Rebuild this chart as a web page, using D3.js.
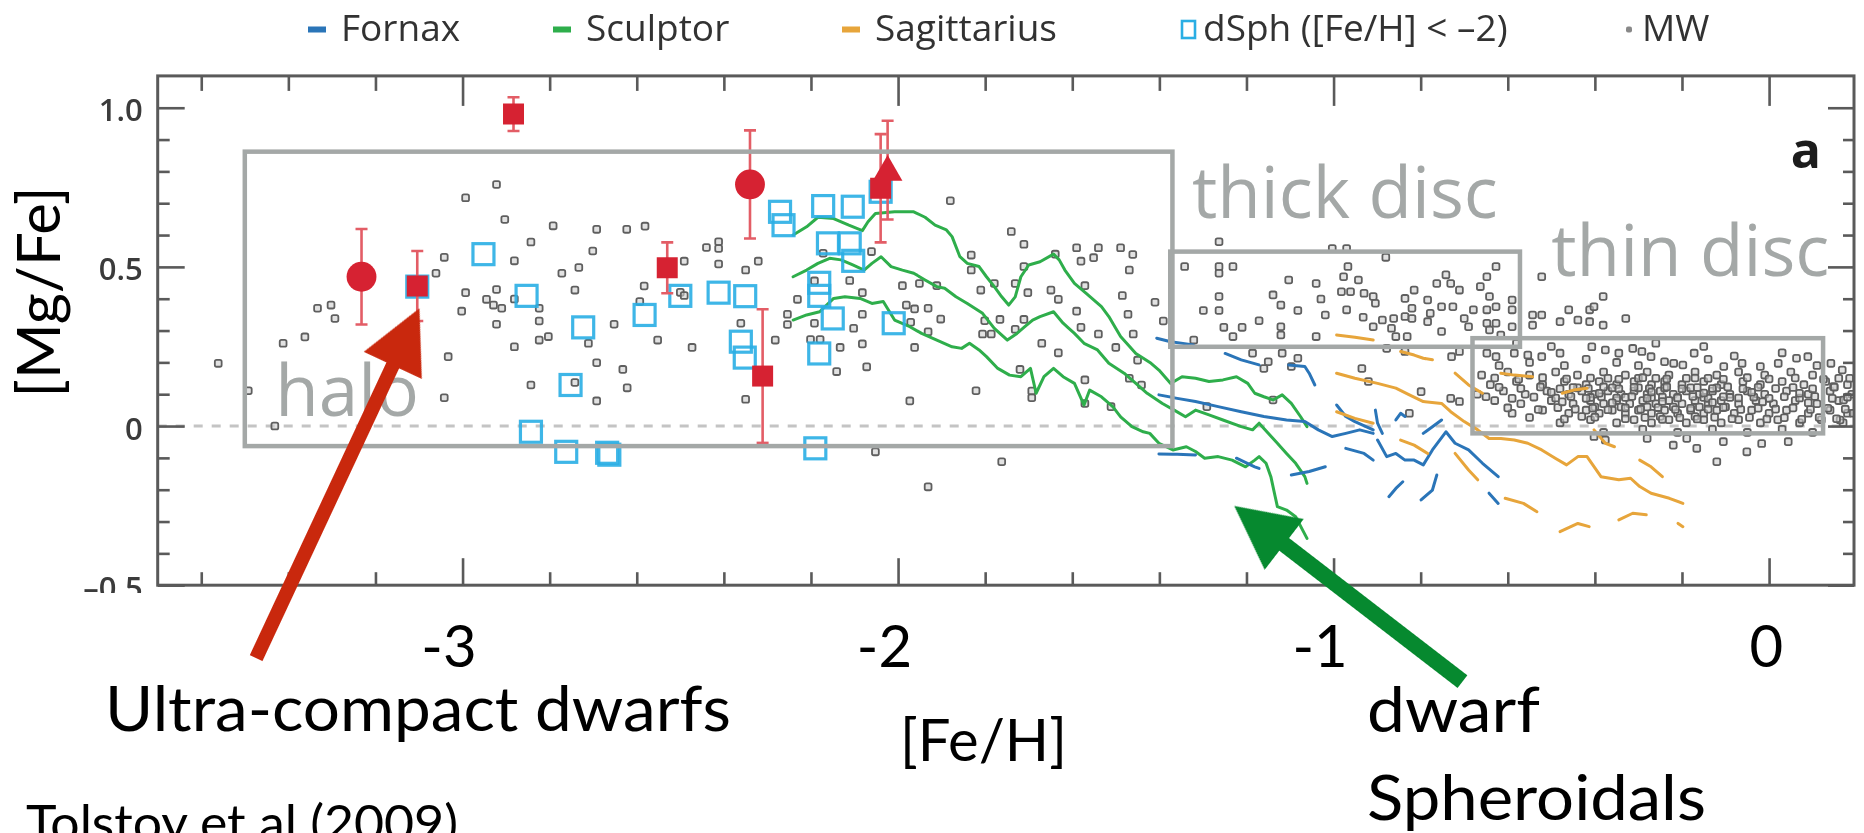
<!DOCTYPE html>
<html>
<head>
<meta charset="utf-8">
<script src="https://cdn.jsdelivr.net/npm/d3@7"></script>
<style>
  body { margin: 0; background: #fff; }
  svg { display: block; }
</style>
</head>
<body>
<svg id="chart" width="1864" height="833"></svg>
<script>
// ---------- axis ticks ----------
const xMajorTicks = [-3, -2, -1, 0];
const xMinorTicks = [-3.6, -3.4, -3.2, -2.8, -2.6, -2.4, -2.2, -1.8, -1.6, -1.4, -1.2, -0.8, -0.6, -0.4, -0.2];
const yMajorTicks = [-0.5, 0, 0.5, 1.0];
const yMinorTicks = [-0.4, -0.3, -0.2, -0.1, 0.1, 0.2, 0.3, 0.4, 0.6, 0.7, 0.8, 0.9];
const xTickLabels = ["-3", "-2", "-1", "0"];
const yTickLabels = ["\u20130.5", "0", "0.5", "1.0"];

// ---------- legend ----------
const legendItems = [
  { key: "Fornax", label: "Fornax" },
  { key: "Sculptor", label: "Sculptor" },
  { key: "Sagittarius", label: "Sagittarius" },
  { key: "dSph", label: "dSph ([Fe/H] < \u20132)" },
  { key: "MW", label: "MW" }
];

// ---------- Galactic components ([Fe/H] range, [Mg/Fe] range) ----------
const regionBoxes = [
  { name: "halo",       x0: -3.50,  x1: -1.37, y0: -0.063, y1: 0.862, lx: -3.43,  ly: 0.03 },
  { name: "thick disc", x0: -1.375, x1: -0.572, y0: 0.249, y1: 0.548, lx: -1.325, ly: 0.655 },
  { name: "thin disc",  x0: -0.681, x1: 0.124,  y0: -0.023, y1: 0.276, lx: -0.50,  ly: 0.472 }
];

// ---------- Milky Way stars ----------
const mwHaloStars = [
  [-2.922,0.759],[-2.993,0.717],[-2.903,0.649],[-2.792,0.629],[-2.692,0.618],[-2.623,0.618],[-2.581,0.628],
  [-2.843,0.578],[-2.701,0.550],[-3.042,0.530],[-2.881,0.519],[-2.733,0.498],[-2.772,0.480],[-3.061,0.480],
  [-2.742,0.427],[-2.583,0.440],[-2.993,0.419],[-2.922,0.429],[-2.945,0.398],[-2.929,0.380],[-2.910,0.370],
  [-2.881,0.399],[-2.824,0.370],[-3.002,0.361],[-2.824,0.330],[-2.922,0.320],[-2.652,0.320],[-2.593,0.391],
  [-2.711,0.260],[-2.803,0.281],[-2.824,0.270],[-2.881,0.249],[-2.552,0.270],[-3.033,0.218],[-2.692,0.199],
  [-2.632,0.178],[-2.742,0.137],[-2.843,0.129],[-2.622,0.120],[-2.692,0.079],[-3.042,0.089],[-3.333,0.370],
  [-3.302,0.380],[-3.293,0.338],[-3.362,0.280],[-3.412,0.260],[-3.561,0.197],[-3.492,0.111],[-3.431,0.000]
];
const mwTransitionStars = [
  [-2.412,0.579],[-2.412,0.558],[-2.440,0.561],[-2.491,0.518],[-2.412,0.509],[-2.350,0.490],[-2.321,0.518],
  [-2.500,0.420],[-2.491,0.410],[-2.473,0.247],[-2.350,0.084],[-2.361,0.323],[-2.282,0.270],[-2.254,0.351],
  [-2.254,0.319],[-2.231,0.398],[-2.192,0.456],[-2.192,0.323],[-2.201,0.272],[-2.179,0.272],[-2.172,0.543],
  [-2.133,0.247],[-2.141,0.171],[-2.111,0.457],[-2.102,0.307],[-2.082,0.419],[-2.082,0.351],[-2.082,0.258],
  [-2.072,0.186],[-2.061,0.548],[-2.052,-0.081],[-1.990,0.441],[-1.971,0.326],[-1.981,0.380],[-1.962,0.368],
  [-1.931,0.370],[-1.931,0.296],[-1.951,0.448],[-1.911,0.441],[-1.962,0.247],[-1.973,0.079],[-1.931,-0.191],
  [-1.902,0.336],[-1.880,0.708],[-1.832,0.537],[-1.832,0.490],[-1.810,0.427],[-1.821,0.111],[-1.801,0.331],
  [-1.779,0.448],[-1.766,0.335],[-1.806,0.289],[-1.786,0.289],[-1.762,-0.112],[-1.740,0.611],[-1.731,0.448],
  [-1.731,0.304],[-1.711,0.571],[-1.711,0.501],[-1.720,0.178],[-1.702,0.419],[-1.711,0.335],[-1.693,0.110],
  [-1.693,0.089],[-1.670,0.260],[-1.649,0.427],[-1.639,0.540],[-1.632,0.230],[-1.632,0.398],[-1.590,0.560],
  [-1.580,0.518],[-1.590,0.361],[-1.580,0.310],[-1.571,0.441],[-1.571,0.145],[-1.571,0.071],[-1.540,0.560],
  [-1.551,0.529],[-1.540,0.289],[-1.511,0.061],[-1.500,0.247],[-1.489,0.560],[-1.485,0.410],[-1.469,0.490],
  [-1.472,0.351],[-1.461,0.539],[-1.460,0.289],[-1.469,0.150],[-1.450,0.207],[-1.441,0.129],[-1.410,0.389],
  [-1.391,0.330],[-1.342,0.501],[-1.321,0.270]
];
const mwThickDiscStars = [
  [-1.263,0.579],[-1.263,0.501],[-1.263,0.480],[-1.231,0.501],[-1.299,0.363],[-1.263,0.407],[-1.263,0.363],
  [-1.252,0.310],[-1.210,0.310],[-1.231,0.281],[-1.171,0.331],[-1.139,0.412],[-1.121,0.380],[-1.121,0.312],
  [-1.121,0.286],[-1.103,0.459],[-1.082,0.363],[-1.040,0.448],[-1.029,0.399],[-1.019,0.349],[-1.040,0.281],
  [-1.003,0.558],[-0.970,0.558],[-0.880,0.530],[-0.967,0.501],[-0.977,0.469],[-0.943,0.459],[-0.982,0.422],
  [-0.961,0.422],[-0.970,0.365],[-0.930,0.417],[-0.909,0.407],[-0.904,0.386],[-0.932,0.342],[-0.909,0.312],
  [-0.888,0.333],[-0.862,0.338],[-0.836,0.401],[-0.815,0.427],[-0.820,0.370],[-0.836,0.344],[-0.820,0.338],
  [-0.867,0.307],[-0.857,0.281],[-0.831,0.281],[-0.784,0.396],[-0.778,0.354],[-0.784,0.328],[-0.763,0.448],
  [-0.742,0.475],[-0.731,0.448],[-0.711,0.427],[-0.752,0.375],[-0.726,0.375],[-0.752,0.297],[-0.700,0.338],
  [-0.679,0.365],[-0.690,0.312],[-0.663,0.438],[-0.648,0.469],[-0.627,0.501],[-0.642,0.407],[-0.648,0.365],
  [-0.627,0.375],[-0.648,0.323],[-0.627,0.323],[-0.642,0.302],[-0.590,0.396],[-0.590,0.365],[-0.590,0.312],
  [-0.616,0.286],[-0.522,0.469],[-0.381,0.407],[-0.543,0.349],[-0.522,0.349],[-0.543,0.317],[-0.460,0.365],
  [-0.480,0.328],[-0.439,0.333],[-0.412,0.365],[-0.402,0.375],[-0.381,0.317],[-0.329,0.338],[-0.412,0.328],
  [-1.186,0.229],[-1.150,0.202],[-1.160,0.181],[-1.097,0.187],[-1.082,0.213],[-1.118,0.229],[-0.935,0.181],
  [-0.878,0.244],[-0.836,0.234],[-0.799,0.108],[-0.729,0.218],[-0.711,0.234],[-0.731,0.087],[-0.711,0.077],
  [-0.826,0.040],[-0.920,0.140],[-1.291,0.061],[-1.139,0.082]
];
const mwThinDiscStars = [
  [-0.66,0.16],[-0.60,0.17],[-0.55,0.16],[-0.49,0.17],[-0.44,0.16],[-0.38,0.17],[-0.33,0.16],[-0.28,0.17],
  [-0.23,0.16],[-0.17,0.17],[-0.12,0.16],[-0.07,0.17],[-0.01,0.16],[0.05,0.17],[0.10,0.16],[0.16,0.15],
  [-0.64,0.13],[-0.58,0.14],[-0.52,0.13],[-0.47,0.14],[-0.42,0.13],[-0.39,0.14],[-0.35,0.13],[-0.31,0.14],
  [-0.27,0.13],[-0.24,0.14],[-0.20,0.13],[-0.15,0.14],[-0.11,0.13],[-0.06,0.14],[-0.02,0.13],[0.03,0.14],
  [0.08,0.13],[0.13,0.14],[0.18,0.13],
  [-0.67,0.10],[-0.61,0.11],[-0.56,0.10],[-0.51,0.11],[-0.46,0.10],[-0.43,0.11],[-0.40,0.10],[-0.37,0.11],
  [-0.34,0.10],[-0.31,0.11],[-0.28,0.10],[-0.25,0.11],[-0.22,0.10],[-0.19,0.11],[-0.16,0.10],[-0.13,0.11],
  [-0.09,0.10],[-0.05,0.11],[-0.01,0.10],[0.04,0.11],[0.09,0.10],[0.14,0.11],[0.19,0.10],
  [-0.63,0.08],[-0.57,0.07],[-0.50,0.08],[-0.45,0.07],[-0.41,0.08],[-0.38,0.07],[-0.35,0.08],[-0.32,0.07],
  [-0.29,0.08],[-0.26,0.07],[-0.23,0.08],[-0.20,0.07],[-0.17,0.08],[-0.14,0.07],[-0.11,0.08],[-0.07,0.07],
  [-0.03,0.08],[0.01,0.07],[0.06,0.08],[0.11,0.07],[0.16,0.08],
  [-0.59,0.04],[-0.52,0.05],[-0.46,0.04],[-0.42,0.05],[-0.39,0.04],[-0.36,0.05],[-0.33,0.04],[-0.30,0.05],
  [-0.27,0.04],[-0.24,0.05],[-0.21,0.04],[-0.18,0.05],[-0.15,0.04],[-0.12,0.05],[-0.08,0.04],[-0.04,0.05],
  [0.00,0.04],[0.04,0.05],[0.09,0.04],[0.14,0.05],[0.18,0.04],
  [-0.48,0.01],[-0.41,0.02],[-0.35,0.01],[-0.31,0.02],[-0.27,0.01],[-0.23,0.02],[-0.19,0.01],[-0.15,0.02],
  [-0.11,0.01],[-0.07,0.02],[-0.02,0.01],[0.02,0.02],[0.07,0.01],[0.12,0.02],[0.17,0.01],
  [-0.38,-0.02],[-0.29,-0.01],[-0.21,-0.02],[-0.13,-0.01],[-0.05,-0.02],[0.03,-0.01],[0.10,-0.02],
  [-0.44,0.12],[-0.41,0.09],[-0.36,0.12],[-0.33,0.09],[-0.30,0.12],[-0.27,0.09],[-0.24,0.12],[-0.21,0.09],
  [-0.18,0.12],[-0.15,0.09],[-0.12,0.12],[-0.09,0.09],[-0.40,0.06],[-0.34,0.06],[-0.28,0.06],[-0.22,0.06],
  [-0.16,0.06],[-0.10,0.06],[-0.37,0.15],[-0.30,0.15],[-0.26,0.15],[-0.19,0.15],[-0.14,0.15],[-0.43,0.03],
  [-0.25,0.03],[-0.17,0.03],
  [-0.648,0.229],[-0.627,0.218],[-0.585,0.229],[-0.554,0.223],[-0.522,0.218],[-0.480,0.229],[-0.407,0.249],
  [-0.376,0.239],[-0.345,0.229],[-0.313,0.244],[-0.292,0.234],[-0.271,0.218],[-0.172,0.229],[-0.240,0.202],
  [-0.219,0.197],[-0.198,0.192],[-0.104,0.187],[-0.062,0.197],[-0.020,0.187],[0.021,0.197],[0.063,0.213],
  [0.089,0.218],[0.142,0.197],[0.168,0.176],[-0.62,0.19],[-0.55,0.20],[-0.47,0.19],[-0.42,0.21],[-0.35,0.20],
  [-0.30,0.19],[-0.14,0.21],[-0.08,0.22],[0.03,0.23],[0.11,0.19],[-0.58,0.26],[-0.50,0.25],[-0.26,0.26],
  [-0.15,0.25],
  [-0.280,-0.039],[-0.220,-0.060],[-0.166,-0.070],[-0.120,-0.112],[-0.105,-0.049],[-0.051,-0.081],
  [-0.017,-0.055],[0.044,-0.049],[-0.189,-0.039],[-0.402,-0.033],[-0.376,-0.044],
  [0.148,0.124],[0.171,0.082],[0.193,0.040],[0.163,0.019],[0.185,0.15]
];
// densest part of the thin-disc sequence
const mwThinDiscCore = [
  [-0.55,0.027],[-0.47,0.022],[-0.40,0.028],[-0.33,0.023],[-0.285,0.027],[-0.245,0.021],[-0.205,0.026],
  [-0.165,0.022],[-0.125,0.028],[-0.085,0.023],[-0.045,0.027],[-0.005,0.022],[0.035,0.026],[0.075,0.021],
  [0.115,0.027],[0.155,0.023],
  [-0.60,0.057],[-0.53,0.052],[-0.485,0.058],[-0.445,0.053],[-0.405,0.056],[-0.37,0.051],[-0.33,0.057],
  [-0.295,0.053],[-0.255,0.058],[-0.215,0.052],[-0.18,0.056],[-0.14,0.053],[-0.105,0.058],[-0.065,0.052],
  [-0.025,0.056],[0.015,0.053],[0.055,0.057],[0.095,0.052],[0.135,0.056],[0.175,0.053],
  [-0.65,0.092],[-0.59,0.087],[-0.54,0.091],[-0.49,0.088],[-0.455,0.093],[-0.42,0.087],[-0.385,0.092],
  [-0.35,0.088],[-0.315,0.093],[-0.28,0.087],[-0.245,0.091],[-0.21,0.088],[-0.175,0.093],[-0.14,0.087],
  [-0.105,0.092],[-0.07,0.088],[-0.035,0.091],[0.0,0.087],[0.035,0.092],[0.07,0.088],[0.105,0.093],
  [0.145,0.087],[0.18,0.091],
  [-0.62,0.122],[-0.57,0.118],[-0.525,0.123],[-0.48,0.117],[-0.45,0.121],[-0.415,0.118],[-0.38,0.123],
  [-0.345,0.117],[-0.31,0.122],[-0.275,0.118],[-0.235,0.123],[-0.20,0.117],[-0.165,0.121],[-0.13,0.118],
  [-0.095,0.123],[-0.06,0.117],[-0.025,0.122],[0.015,0.118],[0.055,0.121],[0.10,0.117],[0.15,0.122],
  [-0.63,0.151],[-0.575,0.147],[-0.52,0.152],[-0.465,0.148],[-0.41,0.151],[-0.345,0.147],[-0.29,0.152],
  [-0.235,0.148],[-0.17,0.151],[-0.105,0.147],[-0.05,0.152],[0.0,0.148],[0.06,0.151],[0.125,0.147],
  [-0.475,0.076],[-0.36,0.073],[-0.245,0.077],[-0.13,0.074],[-0.015,0.076],[0.09,0.073],
  [-0.50,0.106],[-0.39,0.103],[-0.27,0.107],[-0.15,0.104],[-0.04,0.106],[0.07,0.103]
];

// ---------- dwarf spheroidal trends ----------
const sculptorUpper = [
  [-2.241,0.600],[-2.210,0.626],[-2.184,0.656],[-2.148,0.652],[-2.113,0.631],[-2.082,0.614],[-2.069,0.642],
  [-2.052,0.668],[-2.008,0.673],[-1.964,0.673],[-1.938,0.656],[-1.915,0.631],[-1.889,0.616],[-1.876,0.595],
  [-1.858,0.532],[-1.841,0.511],[-1.814,0.501],[-1.797,0.469],[-1.779,0.438],[-1.762,0.406],[-1.746,0.380],
  [-1.731,0.406],[-1.718,0.469],[-1.700,0.506],[-1.674,0.516],[-1.643,0.540],[-1.630,0.522],[-1.617,0.490],
  [-1.595,0.448],[-1.568,0.417],[-1.533,0.375],[-1.516,0.344],[-1.489,0.281],[-1.454,0.228],[-1.419,0.197],
  [-1.401,0.176],[-1.374,0.134],[-1.348,0.155],[-1.317,0.150],[-1.286,0.140],[-1.254,0.145],[-1.223,0.155],
  [-1.197,0.134],[-1.181,0.103],[-1.160,0.092],[-1.139,0.082],[-1.118,0.098],[-1.097,0.071],[-1.076,0.030],
  [-1.061,-0.002]
];
const sculptorMedian = [
  [-2.241,0.469],[-2.210,0.490],[-2.184,0.511],[-2.157,0.527],[-2.131,0.522],[-2.104,0.506],[-2.078,0.490],
  [-2.060,0.511],[-2.039,0.532],[-2.016,0.501],[-1.990,0.490],[-1.964,0.480],[-1.938,0.459],[-1.911,0.438],
  [-1.893,0.433],[-1.867,0.406],[-1.841,0.385],[-1.806,0.354],[-1.779,0.307],[-1.749,0.270],[-1.727,0.291],
  [-1.709,0.312],[-1.691,0.333],[-1.674,0.344],[-1.643,0.359],[-1.621,0.323],[-1.595,0.291],[-1.573,0.260],
  [-1.542,0.239],[-1.516,0.197],[-1.481,0.166],[-1.454,0.134],[-1.428,0.103],[-1.393,0.071],[-1.366,0.050],
  [-1.340,0.029],[-1.317,0.050],[-1.286,0.035],[-1.254,0.019],[-1.212,-0.002],[-1.186,-0.012],[-1.171,0.009],
  [-1.150,-0.023],[-1.129,-0.054],[-1.108,-0.086],[-1.087,-0.117],[-1.066,-0.159],[-1.061,-0.180]
];
const sculptorLower = [
  [-2.241,0.333],[-2.210,0.349],[-2.180,0.359],[-2.148,0.401],[-2.122,0.406],[-2.087,0.401],[-2.060,0.385],
  [-2.034,0.391],[-2.008,0.333],[-1.973,0.312],[-1.946,0.291],[-1.911,0.270],[-1.876,0.249],[-1.854,0.244],
  [-1.836,0.260],[-1.814,0.239],[-1.797,0.218],[-1.771,0.181],[-1.744,0.160],[-1.718,0.155],[-1.696,0.181],
  [-1.683,0.103],[-1.665,0.155],[-1.643,0.181],[-1.621,0.155],[-1.595,0.134],[-1.573,0.066],[-1.560,0.113],
  [-1.533,0.092],[-1.507,0.061],[-1.489,0.029],[-1.463,-0.002],[-1.437,-0.018],[-1.422,-0.023],[-1.401,-0.054],
  [-1.369,-0.075],[-1.338,-0.065],[-1.317,-0.080],[-1.296,-0.101],[-1.265,-0.096],[-1.233,-0.107],
  [-1.202,-0.128],[-1.181,-0.107],[-1.171,-0.096],[-1.155,-0.117],[-1.144,-0.159],[-1.134,-0.222],
  [-1.129,-0.253],[-1.108,-0.264],[-1.087,-0.285],[-1.071,-0.327],[-1.061,-0.353]
];
const fornaxSegments = [
  [[-1.406,0.276],[-1.374,0.265],[-1.322,0.255]],
  [[-1.249,0.228],[-1.212,0.208],[-1.171,0.192]],
  [[-1.103,0.192],[-1.066,0.187],[-1.056,0.166],[-1.043,0.129]],
  [[-1.401,0.098],[-1.359,0.087],[-1.317,0.077],[-1.265,0.061],[-1.212,0.045],[-1.160,0.030],[-1.108,0.019],
   [-1.066,0.014],[-1.035,-0.012],[-1.003,-0.033],[-0.972,-0.023],[-0.940,-0.012],[-0.909,-0.023]],
  [[-0.899,-0.044],[-0.878,-0.096],[-0.857,-0.086],[-0.836,-0.107],[-0.815,-0.107],[-0.794,-0.122],
   [-0.773,-0.075],[-0.742,-0.018],[-0.721,-0.054],[-0.690,-0.075],[-0.658,-0.117],[-0.622,-0.159]],
  [[-0.993,0.066],[-0.972,0.030],[-0.951,0.014],[-0.909,-0.012]],
  [[-0.904,0.050],[-0.899,0.009],[-0.888,-0.023]],
  [[-0.857,0.019],[-0.846,0.040],[-0.836,0.030]],
  [[-0.794,-0.023],[-0.773,-0.002],[-0.752,0.019]],
  [[-0.972,-0.070],[-0.930,-0.086],[-0.909,-0.107]],
  [[-1.401,-0.088],[-1.359,-0.089],[-1.317,-0.091]],
  [[-1.223,-0.101],[-1.181,-0.128],[-1.171,-0.133]],
  [[-1.097,-0.154],[-1.056,-0.143],[-1.019,-0.128]],
  [[-0.873,-0.222],[-0.857,-0.196],[-0.841,-0.175]],
  [[-0.799,-0.232],[-0.773,-0.201],[-0.763,-0.154]],
  [[-0.643,-0.211],[-0.622,-0.243]]
];
const sagittariusSegments = [
  [[-0.993,0.286],[-0.951,0.279],[-0.909,0.270]],
  [[-0.846,0.234],[-0.815,0.223],[-0.794,0.213],[-0.773,0.208]],
  [[-0.993,0.166],[-0.951,0.150],[-0.899,0.134],[-0.857,0.119],[-0.826,0.098],[-0.794,0.077],[-0.752,0.071],
   [-0.731,0.045],[-0.700,0.014],[-0.669,-0.012],[-0.643,-0.039],[-0.616,-0.039],[-0.585,-0.044],
   [-0.554,-0.054],[-0.522,-0.075],[-0.491,-0.101],[-0.465,-0.122],[-0.439,-0.096],[-0.418,-0.096],
   [-0.386,-0.159],[-0.345,-0.169],[-0.318,-0.164],[-0.297,-0.190],[-0.271,-0.211],[-0.229,-0.227],[-0.198,-0.243]],
  [[-0.993,0.045],[-0.951,0.024],[-0.909,0.009]],
  [[-0.846,-0.044],[-0.815,-0.060],[-0.784,-0.086]],
  [[-0.721,0.166],[-0.690,0.129],[-0.658,0.103]],
  [[-0.616,0.166],[-0.585,0.160],[-0.543,0.155]],
  [[-0.475,0.103],[-0.449,0.113],[-0.418,0.119]],
  [[-0.721,-0.086],[-0.690,-0.138],[-0.669,-0.169]],
  [[-0.606,-0.227],[-0.564,-0.243],[-0.533,-0.269]],
  [[-0.480,-0.332],[-0.439,-0.306],[-0.413,-0.316]],
  [[-0.345,-0.295],[-0.313,-0.274],[-0.282,-0.279]],
  [[-0.297,-0.107],[-0.271,-0.128],[-0.245,-0.159]],
  [[-0.402,-0.012],[-0.376,-0.054],[-0.355,-0.065]],
  [[-0.209,-0.306],[-0.198,-0.316]]
];

// ---------- extremely metal-poor dSph stars ----------
const dsphStars = [
  [-3.104,0.438],[-2.952,0.540],[-2.853,0.409],[-2.723,0.310],[-2.752,0.129],[-2.843,-0.018],[-2.762,-0.081],
  [-2.668,-0.084],[-2.663,-0.090],[-2.582,0.349],[-2.500,0.409],[-2.412,0.419],[-2.351,0.408],[-2.361,0.265],
  [-2.352,0.215],[-2.271,0.673],[-2.263,0.631],[-2.172,0.691],[-2.104,0.689],[-2.040,0.736],[-2.161,0.574],
  [-2.111,0.574],[-2.103,0.519],[-2.181,0.450],[-2.181,0.409],[-2.150,0.338],[-2.010,0.323],[-2.181,0.228],
  [-2.190,-0.070]
];

// ---------- ultra-compact dwarfs ----------
const ucdFeH   = [-3.232, -3.104, -2.883, -2.340, -2.530, -2.311, -2.040, -2.024];
const ucdMgFe  = [0.469, 0.440, 0.980, 0.759, 0.497, 0.157, 0.747, 0.804];
const ucdError = [0.150, 0.110, 0.053, 0.170, 0.080, 0.210, 0.170, 0.155];
const ucdShape = ["circle", "square", "square", "circle", "square", "square", "square", "triangle"];

// ---------- annotation arrows (tail -> tip, data units) ----------
const arrows = [
  { tail: [-3.474, -0.729], tip: [-3.099, 0.370], color: "#c9280d", shaft: 14, headLen: 63, headW: 64 },
  { tail: [-0.704, -0.803], tip: [-1.228, -0.251], color: "#06892f", shaft: 16, headLen: 63, headW: 64 }
];

// ---------- colours ----------
const colors = {
  Fornax: "#2b74b8", Sculptor: "#2fae4b", Sagittarius: "#e7a53a",
  dSph: "#2aaee4", MW: "#5f5f5f", ucd: "#d62130", ucdErr: "#e35d66",
  box: "#a4a8a7", frame: "#5a5a5a"
};

// ---------- scales ----------
const x = d3.scaleLinear().domain([-3.7, 0.195]).range([157.7, 1854]);
const y = d3.scaleLinear().domain([-0.5, 1.1]).range([585.2, 75.9]);
const [px0, px1] = x.range();
const [py1, py0] = y.range();

const svg = d3.select("#chart");
const defs = svg.append("defs");
defs.append("clipPath").attr("id", "figClip")
  .append("rect").attr("x", 0).attr("y", 0).attr("width", 1864).attr("height", 593);
defs.append("clipPath").attr("id", "plotClip")
  .append("rect").attr("x", px0).attr("y", py0).attr("width", px1 - px0).attr("height", py1 - py0);
defs.append("filter").attr("id", "soft").attr("x", "-2%").attr("y", "-2%").attr("width", "104%").attr("height", "104%")
  .append("feGaussianBlur").attr("stdDeviation", 0.6);

const figOuter = svg.append("g").attr("clip-path", "url(#figClip)");
const fig = figOuter.append("g").attr("filter", "url(#soft)");
const plot = fig.append("g").attr("clip-path", "url(#plotClip)");

const innerFont = "'Open Sans', 'Liberation Sans', sans-serif";
const annoFont = "Lato, 'Open Sans', sans-serif";

// zero line
plot.append("line")
  .attr("x1", px0).attr("x2", px1).attr("y1", y(0)).attr("y2", y(0))
  .attr("stroke", "#c4c4c4").attr("stroke-width", 3).attr("stroke-dasharray", "9 9");

// Milky Way stars
const allMW = [].concat(mwHaloStars, mwTransitionStars, mwThickDiscStars, mwThinDiscStars, mwThinDiscCore);
plot.append("g").selectAll("rect").data(allMW).join("rect")
  .attr("x", d => x(d[0]) - 3.4).attr("y", d => y(d[1]) - 3.4)
  .attr("width", 6.8).attr("height", 6.8).attr("rx", 1.8)
  .attr("fill", "#cfcfcf").attr("fill-opacity", 0.6)
  .attr("stroke", colors.MW).attr("stroke-width", 1.8);

// dSph trends
const line = d3.line().x(d => x(d[0])).y(d => y(d[1]));
const trend = plot.append("g").attr("fill", "none").attr("stroke-width", 3).attr("stroke-linejoin", "round").attr("stroke-linecap", "round");
trend.selectAll("path.scl").data([sculptorUpper, sculptorMedian, sculptorLower]).join("path")
  .attr("class", "scl").attr("d", line).attr("stroke", colors.Sculptor);
trend.selectAll("path.fnx").data(fornaxSegments).join("path")
  .attr("class", "fnx").attr("d", line).attr("stroke", colors.Fornax);
trend.selectAll("path.sgr").data(sagittariusSegments).join("path")
  .attr("class", "sgr").attr("d", line).attr("stroke", colors.Sagittarius);

// metal-poor dSph stars
plot.append("g").selectAll("rect").data(dsphStars).join("rect")
  .attr("x", d => x(d[0]) - 10.5).attr("y", d => y(d[1]) - 10.5)
  .attr("width", 21).attr("height", 21)
  .attr("fill", "none").attr("stroke", colors.dSph).attr("stroke-width", 3.2).attr("stroke-opacity", 0.9);

// ultra-compact dwarfs with error bars
const ucd = ucdFeH.map((v, i) => ({ x: v, y: ucdMgFe[i], e: ucdError[i], shape: ucdShape[i] }));
const errG = plot.append("g").attr("stroke", colors.ucdErr).attr("stroke-width", 2.6);
errG.selectAll("line.bar").data(ucd).join("line").attr("class", "bar")
  .attr("x1", d => x(d.x)).attr("x2", d => x(d.x))
  .attr("y1", d => y(d.y + d.e)).attr("y2", d => y(d.y - d.e));
errG.selectAll("line.capHi").data(ucd).join("line").attr("class", "capHi")
  .attr("x1", d => x(d.x) - 6).attr("x2", d => x(d.x) + 6)
  .attr("y1", d => y(d.y + d.e)).attr("y2", d => y(d.y + d.e));
errG.selectAll("line.capLo").data(ucd).join("line").attr("class", "capLo")
  .attr("x1", d => x(d.x) - 6).attr("x2", d => x(d.x) + 6)
  .attr("y1", d => y(d.y - d.e)).attr("y2", d => y(d.y - d.e));
const symbolFor = { circle: d3.symbolCircle, square: d3.symbolSquare, triangle: d3.symbolTriangle };
const symbolSize = { circle: 700, square: 440, triangle: 380 };
plot.append("g").selectAll("path").data(ucd).join("path")
  .attr("transform", d => `translate(${x(d.x)},${y(d.y) + (d.shape === "triangle" ? 2 : 0)})`)
  .attr("d", d => d3.symbol(symbolFor[d.shape], symbolSize[d.shape])())
  .attr("fill", colors.ucd);

// Galactic component boxes
const boxG = fig.append("g");
boxG.selectAll("rect").data(regionBoxes).join("rect")
  .attr("x", d => x(d.x0)).attr("y", d => y(d.y1))
  .attr("width", d => x(d.x1) - x(d.x0)).attr("height", d => y(d.y0) - y(d.y1))
  .attr("fill", "none").attr("stroke", colors.box).attr("stroke-width", 4.5);
boxG.selectAll("text").data(regionBoxes).join("text")
  .attr("x", d => x(d.lx)).attr("y", d => y(d.ly))
  .attr("font-family", innerFont).attr("font-size", 71).attr("fill", "#a4a8a7")
  .text(d => d.name);

// frame
fig.append("rect")
  .attr("x", px0).attr("y", py0).attr("width", px1 - px0).attr("height", py1 - py0)
  .attr("fill", "none").attr("stroke", colors.frame).attr("stroke-width", 3);

// tick marks only (no labels)
function tickAxis(axisGen, transform, values, size) {
  const g = fig.append("g").attr("transform", transform)
    .call(axisGen.tickValues(values).tickSize(-size).tickFormat(""));
  g.select(".domain").remove();
  g.selectAll(".tick text").remove();
  g.selectAll(".tick line").attr("stroke", colors.frame).attr("stroke-width", 2.6);
  return g;
}
tickAxis(d3.axisBottom(x), `translate(0,${py1})`, xMajorTicks, 27);
tickAxis(d3.axisBottom(x), `translate(0,${py1})`, xMinorTicks, 13);
tickAxis(d3.axisTop(x), `translate(0,${py0})`, xMajorTicks, 30);
tickAxis(d3.axisTop(x), `translate(0,${py0})`, xMinorTicks, 15);
tickAxis(d3.axisRight(y), `translate(${px1},0)`, yMajorTicks, 26);
tickAxis(d3.axisRight(y), `translate(${px1},0)`, yMinorTicks, 11);
tickAxis(d3.axisLeft(y), `translate(${px0},0)`, yMinorTicks, 12);

// left axis with value labels
const yAxisG = fig.append("g").attr("transform", `translate(${px0},0)`)
  .call(d3.axisLeft(y).tickValues(yMajorTicks).tickSize(-27).tickPadding(15)
    .tickFormat((d, i) => yTickLabels[i]));
yAxisG.select(".domain").remove();
yAxisG.selectAll(".tick line").attr("stroke", colors.frame).attr("stroke-width", 2.6);
yAxisG.selectAll(".tick text")
  .attr("font-family", innerFont).attr("font-size", 31).attr("font-weight", 600)
  .attr("fill", "#3a3a3a").attr("dy", "0.42em");

// panel letter
fig.append("text").attr("x", x(0.05)).attr("y", y(0.81))
  .attr("font-family", innerFont).attr("font-size", 50).attr("font-weight", 700)
  .attr("fill", "#1a1a1a").text("a");

// legend
const legendX = { Fornax: 308, Sculptor: 553, Sagittarius: 842, dSph: 1181, MW: 1626 };
const legend = fig.append("g");
legendItems.forEach(item => {
  const lx = legendX[item.key];
  const g = legend.append("g").attr("transform", `translate(${lx},29)`);
  if (item.key === "dSph") {
    g.append("rect").attr("x", 1).attr("y", -8).attr("width", 13).attr("height", 17)
      .attr("fill", "none").attr("stroke", colors.dSph).attr("stroke-width", 2.6);
  } else if (item.key === "MW") {
    g.append("rect").attr("x", 0).attr("y", -2.5).attr("width", 6).attr("height", 6).attr("rx", 2)
      .attr("fill", "#888");
  } else {
    g.append("rect").attr("x", 0).attr("y", -2.5).attr("width", 18).attr("height", 6)
      .attr("fill", colors[item.key]);
  }
  g.append("text")
    .attr("x", item.key === "MW" ? 16 : (item.key === "dSph" ? 22 : 33)).attr("y", 12)
    .attr("font-family", innerFont).attr("font-size", 37).attr("fill", "#333")
    .text(item.label);
});

// ---------- annotations outside the figure ----------
const anno = svg.append("g").attr("font-family", annoFont).attr("fill", "#000");

// x tick values below the figure
anno.selectAll("text.xt").data(xMajorTicks).join("text").attr("class", "xt")
  .attr("x", d => x(d) + 14).attr("y", 667).attr("text-anchor", "end")
  .attr("font-size", 58).text((d, i) => xTickLabels[i]);

anno.append("text").attr("x", 900).attr("y", 761).attr("font-size", 58).text("[Fe/H]");
anno.append("text").attr("transform", "translate(60,292) rotate(-90)")
  .attr("text-anchor", "middle").attr("font-size", 60).text("[Mg/Fe]");

anno.append("text").attr("x", 105).attr("y", 731).attr("font-size", 62)
  .attr("textLength", 626).attr("lengthAdjust", "spacingAndGlyphs").text("Ultra-compact dwarfs");
anno.append("text").attr("x", 1367).attr("y", 732).attr("font-size", 62)
  .attr("textLength", 173).attr("lengthAdjust", "spacingAndGlyphs").text("dwarf");
anno.append("text").attr("x", 1367).attr("y", 820).attr("font-size", 62)
  .attr("textLength", 339).attr("lengthAdjust", "spacingAndGlyphs").text("Spheroidals");
anno.append("text").attr("x", 26).attr("y", 841).attr("font-size", 50)
  .attr("textLength", 432).attr("lengthAdjust", "spacingAndGlyphs").text("Tolstoy et al (2009)");

// arrows
arrows.forEach(a => {
  const tx = x(a.tail[0]), ty = y(a.tail[1]);
  const hx = x(a.tip[0]), hy = y(a.tip[1]);
  const len = Math.hypot(hx - tx, hy - ty);
  const ang = Math.atan2(hy - ty, hx - tx) * 180 / Math.PI;
  const s = a.shaft / 2, L = len - a.headLen, w = a.headW / 2;
  const pts = [[0, -s], [L, -s], [L, -w], [len, 0], [L, w], [L, s], [0, s]];
  anno.append("path")
    .attr("transform", `translate(${tx},${ty}) rotate(${ang})`)
    .attr("d", d3.line()(pts) + "Z")
    .attr("fill", a.color);
});
</script>
</body>
</html>
